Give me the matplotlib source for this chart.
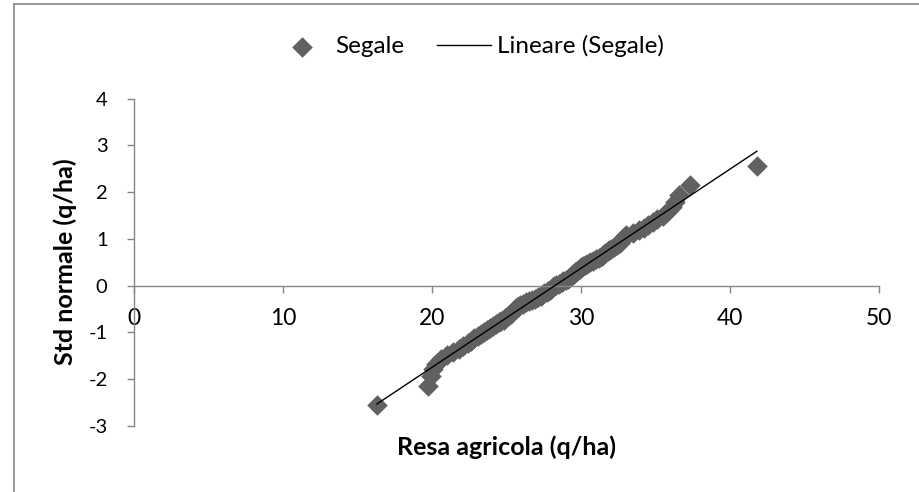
import matplotlib
matplotlib.use("Agg")
import matplotlib.pyplot as plt
from matplotlib.lines import Line2D
import numpy as np

plt.rcParams["font.family"] = ["Lato", "DejaVu Sans"]
plt.rcParams["axes.unicode_minus"] = False

# resa agricola della segale (q/ha), valori ordinati
resa = [16.3, 19.7, 19.9, 20.1, 20.3, 20.6, 21.0, 21.4, 21.8, 22.1,
        22.4, 22.6, 22.8, 23.1, 23.3, 23.5, 23.7, 23.9, 24.1, 24.3,
        24.5, 24.6, 24.8, 24.9, 25.1, 25.2, 25.3, 25.4, 25.5, 25.6,
        25.7, 25.8, 25.9, 26.1, 26.3, 26.5, 26.7, 26.9, 27.1, 27.3,
        27.4, 27.5, 27.7, 27.8, 27.9, 28.0, 28.1, 28.2, 28.3, 28.5,
        28.7, 28.8, 29.0, 29.1, 29.2, 29.3, 29.4, 29.5, 29.6, 29.7,
        29.8, 29.9, 30.0, 30.1, 30.3, 30.4, 30.6, 30.8, 31.0, 31.2,
        31.4, 31.5, 31.6, 31.8, 31.9, 32.0, 32.2, 32.4, 32.6, 32.7,
        32.8, 32.9, 33.0, 33.5, 33.9, 34.2, 34.5, 34.8, 35.1, 35.5,
        35.8, 36.1, 36.3, 36.6, 37.3, 41.8]

# quantili della normale standard
std_normale = [-2.56, -2.15, -1.94, -1.79, -1.68, -1.58, -1.49, -1.42, -1.35, -1.29,
               -1.23, -1.18, -1.13, -1.08, -1.03, -0.99, -0.95, -0.91, -0.87, -0.83,
               -0.79, -0.76, -0.73, -0.69, -0.66, -0.63, -0.60, -0.56, -0.53, -0.50,
               -0.47, -0.45, -0.42, -0.39, -0.36, -0.33, -0.31, -0.28, -0.25, -0.22,
               -0.20, -0.17, -0.14, -0.12, -0.09, -0.07, -0.04, -0.01, 0.01, 0.04,
               0.07, 0.09, 0.12, 0.14, 0.17, 0.20, 0.22, 0.25, 0.28, 0.31,
               0.33, 0.36, 0.39, 0.42, 0.45, 0.47, 0.50, 0.53, 0.56, 0.60,
               0.63, 0.66, 0.69, 0.73, 0.76, 0.79, 0.83, 0.87, 0.91, 0.95,
               0.99, 1.03, 1.08, 1.13, 1.18, 1.23, 1.29, 1.35, 1.42, 1.49,
               1.58, 1.68, 1.79, 1.94, 2.15, 2.56]

x_ticks = [0, 10, 20, 30, 40, 50]
y_ticks = [-3, -2, -1, 0, 1, 2, 3, 4]

axis_grey = "#868686"

fig = plt.figure(figsize=(9.19, 4.92), dpi=100)
ax = fig.add_axes([0.1458, 0.1348, 0.8107, 0.6646])

ax.scatter(resa, std_normale, marker="D", s=110, color="#606060",
           linewidths=0, zorder=2, label="Segale")

# linea di tendenza lineare
slope, intercept = np.polyfit(resa, std_normale, 1)
x_fit = np.array([min(resa), max(resa)])
ax.plot(x_fit, slope * x_fit + intercept, color="black", linewidth=1.0,
        zorder=3, label="Lineare (Segale)")

ax.set_xlim(0, 50)
ax.set_ylim(-3, 4)

for side in ["top", "right"]:
    ax.spines[side].set_visible(False)
ax.spines["bottom"].set_position(("data", 0))
ax.spines["left"].set_position(("data", 0))
for side in ["bottom", "left"]:
    ax.spines[side].set_color(axis_grey)
    ax.spines[side].set_linewidth(1.0)

ax.set_xticks(x_ticks)
ax.set_yticks(y_ticks)
ax.tick_params(axis="x", direction="out", length=5, width=1, color=axis_grey,
               labelsize=16.5, pad=11.5)
ax.tick_params(axis="y", direction="out", length=5, width=1, color=axis_grey,
               labelsize=14.5, pad=14)

ax.set_xlabel("Resa agricola (q/ha)", fontsize=18, fontweight="bold")
ax.set_ylabel("Std normale (q/ha)", fontsize=18, fontweight="bold")
ax.xaxis.set_label_coords(0.5, -0.03)
ax.yaxis.set_label_coords(-0.076, 0.5)

ax.legend(loc="center", bbox_to_anchor=(0.511, 0.9065),
          bbox_transform=fig.transFigure, ncol=2, frameon=False,
          fontsize=17.5, handlelength=2.2, handletextpad=0.25,
          columnspacing=1.35, markerscale=1.0)

# bordo dell'area del grafico
fig.add_artist(Line2D([14 / 919, 14 / 919], [0, 1 - 4 / 492],
                      transform=fig.transFigure, color=axis_grey, linewidth=1.2))
fig.add_artist(Line2D([14 / 919, 1], [1 - 4 / 492, 1 - 4 / 492],
                      transform=fig.transFigure, color=axis_grey, linewidth=1.2))

fig.savefig("out.png", dpi=100)
